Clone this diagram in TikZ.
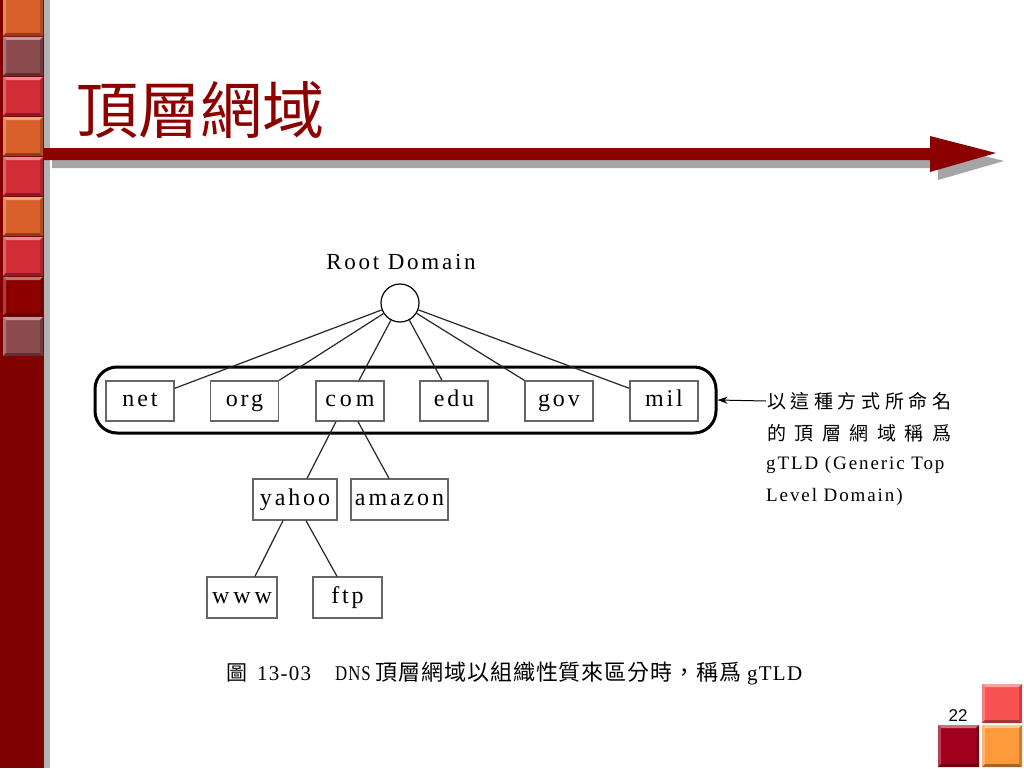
\documentclass[tikz,border=0pt]{standalone}
\usepackage{fontspec}
\usepackage{graphicx}
\usetikzlibrary{arrows.meta}
\setmainfont{Liberation Serif}
\newfontfamily\cjk{Noto Sans CJK TC}
\newfontfamily\cjkcap[LetterSpace=4]{Noto Sans CJK TC}
\newfontfamily\treefont[LetterSpace=12]{Liberation Serif}
\newfontfamily\notefont[LetterSpace=10]{Liberation Serif}
\newfontfamily\capfont[LetterSpace=6]{Liberation Serif}
\newfontfamily\numfont{Liberation Sans}
\definecolor{sidebg}{HTML}{7F0000}
\definecolor{sidegrey}{HTML}{B2B2B2}
\definecolor{sqor}{HTML}{D8602A}
\definecolor{sqmv}{HTML}{8A4A4E}
\definecolor{sqrd}{HTML}{D22D37}
\definecolor{sqdk}{HTML}{8C0000}
\definecolor{titlered}{HTML}{8C0000}
\definecolor{barred}{HTML}{8B0000}
\definecolor{shadowgrey}{HTML}{A5A5A5}
\definecolor{sqlt}{HTML}{F85252}
\definecolor{sqcr}{HTML}{A0001C}
\definecolor{sqog}{HTML}{FF9A3C}
\newcommand\bevsq[5]{%
  \fill[#5] (#1,#2) rectangle ({#1+#3},{#2+#4});
  \fill[#5!55!white] (#1,#2) -- ({#1+#3},#2) -- ({#1+#3-3},{#2+3}) -- ({#1+3},{#2+3}) -- cycle;
  \fill[#5!75!white] (#1,#2) -- ({#1+3},{#2+3}) -- ({#1+3},{#2+#4-3}) -- (#1,{#2+#4}) -- cycle;
  \fill[#5!65!black] (#1,{#2+#4}) -- ({#1+3},{#2+#4-3}) -- ({#1+#3-3},{#2+#4-3}) -- ({#1+#3},{#2+#4}) -- cycle;
  \fill[#5!80!black] ({#1+#3},#2) -- ({#1+#3},{#2+#4}) -- ({#1+#3-3},{#2+#4-3}) -- ({#1+#3-3},{#2+3}) -- cycle;
}
\tikzset{
  box/.style={draw=black!60, line width=1.3pt, minimum height=40pt, inner sep=0pt,
    text height=16pt, text depth=5pt,
    font=\treefont\fontsize{24}{24}\selectfont},
  edge/.style={line width=1.2pt, black!85},
}
\begin{document}
\begin{tikzpicture}[x=1pt, y=-1pt]
\useasboundingbox (0,0) rectangle (1024,768);
\fill[white] (0,0) rectangle (1024,768);
% sidebar
\fill[sidebg] (0,0) rectangle (44,768);
\fill[sidegrey] (44,0) rectangle (50,768);
\bevsq{3}{-3}{40}{39}{sqor}
\bevsq{3}{37}{40}{39}{sqmv}
\bevsq{3}{77}{40}{39}{sqrd}
\bevsq{3}{117}{40}{39}{sqor}
\bevsq{3}{157}{40}{39}{sqrd}
\bevsq{3}{197}{40}{39}{sqor}
\bevsq{3}{237}{40}{39}{sqrd}
\bevsq{3}{277}{40}{39}{sqdk}
\bevsq{3}{317}{40}{39}{sqmv}
% title bar with shadow
\fill[shadowgrey] (52,156) -- (938,156) -- (938,144) -- (1004,161) -- (938,180) -- (938,168) -- (52,168) -- cycle;
\fill[barred] (44,148) -- (930,148) -- (930,136) -- (996,153) -- (930,172) -- (930,160) -- (44,160) -- cycle;
% title
\node[anchor=west, inner sep=0pt, font=\cjk\fontsize{62}{62}\selectfont, text=titlered] (title) at (76,110) {頂層網域};
% bottom-right squares
\bevsq{982}{684}{40}{39}{sqlt}
\bevsq{938}{725}{41}{42}{sqcr}
\bevsq{982}{725}{40}{42}{sqog}
\node[font=\numfont\fontsize{17}{17}\selectfont] (pg) at (958,716) {22};
% tree
\node[font=\treefont\fontsize{23}{23}\selectfont, inner sep=0pt] (rootlbl) at (401,262) {Root Domain};
\node[circle, draw, line width=1.2pt, minimum size=38pt, inner sep=0pt] (root) at (400,303) {};
\node[draw, line width=3pt, rounded corners=22pt, minimum width=621pt, minimum height=66pt, inner sep=0pt] (tld) at (405.5,400) {};
\node[box, minimum width=68pt] (net) at (140,401) {net};
\node[box, minimum width=68pt] (org) at (244.5,401) {org};
\node[box, minimum width=68pt] (com) at (350,401) {c\hspace{4pt}o\hspace{4pt}m};
\node[box, minimum width=68pt] (edu) at (454,401) {edu};
\node[box, minimum width=68pt] (gov) at (559,401) {gov};
\node[box, minimum width=68pt] (mil) at (664,401) {mil};
\node[box, minimum width=84pt, minimum height=41pt] (yahoo) at (295,499.5) {yahoo};
\node[box, minimum width=97pt, minimum height=41pt] (amazon) at (399.5,499.5) {amazon};
\node[box, minimum width=70pt, minimum height=41pt] (www) at (242,597.5) {w\hspace{4pt}w\hspace{4pt}w};
\node[box, minimum width=69pt, minimum height=41pt] (ftp) at (347.5,597.5) {ftp};
\draw[edge] (root) -- ([yshift=-8pt]net.north east);
\draw[edge] (root) -- (org.north east);
\draw[edge] (root) -- ([xshift=9pt]com.north);
\draw[edge] (root) -- ([xshift=-12pt]edu.north);
\draw[edge] (root) -- (gov.north west);
\draw[edge] (root) -- ([yshift=-8pt]mil.north west);
\draw[edge] ([xshift=-14pt]com.south) -- ([xshift=12pt]yahoo.north);
\draw[edge] ([xshift=8pt]com.south) -- ([xshift=-10.5pt]amazon.north);
\draw[edge] ([xshift=-12pt]yahoo.south) -- ([xshift=13pt]www.north);
\draw[edge] ([xshift=11pt]yahoo.south) -- ([xshift=-10.5pt]ftp.north);
% annotation
\node[anchor=west, inner sep=0pt, font=\cjk\fontsize{19}{19}\selectfont] (n1) at (767,401)
  {\makebox[184pt]{以\hfill 這\hfill 種\hfill 方\hfill 式\hfill 所\hfill 命\hfill 名}};
\node[anchor=west, inner sep=0pt, font=\cjk\fontsize{19}{19}\selectfont] (n2) at (767,433)
  {\makebox[184pt]{的\hfill 頂\hfill 層\hfill 網\hfill 域\hfill 稱\hfill 爲}};
\node[anchor=west, inner sep=0pt, font=\notefont\fontsize{19}{19}\selectfont] (n3) at (766,465) {gTLD (Generic Top};
\node[anchor=west, inner sep=0pt, font=\notefont\fontsize{19}{19}\selectfont] (n4) at (766,497) {Level Domain)};
\draw[line width=1pt, -{Stealth[length=10pt, width=7pt]}] ([xshift=-1pt]n1.west) -- (tld.east);
% caption
\node[anchor=west, inner sep=0pt, font=\fontsize{21}{21}\selectfont] (cap) at (226,673)
  {{\cjk 圖}\hspace{10pt}{\capfont 13-03}\hspace{24pt}{\capfont\scalebox{0.8}[1]{DNS}}\hspace{5pt}{\cjkcap\fontsize{22}{22}\selectfont 頂層網域以組織性質來區分時，稱爲}\hspace{6pt}{\capfont gTLD}};
\end{tikzpicture}
\end{document}
